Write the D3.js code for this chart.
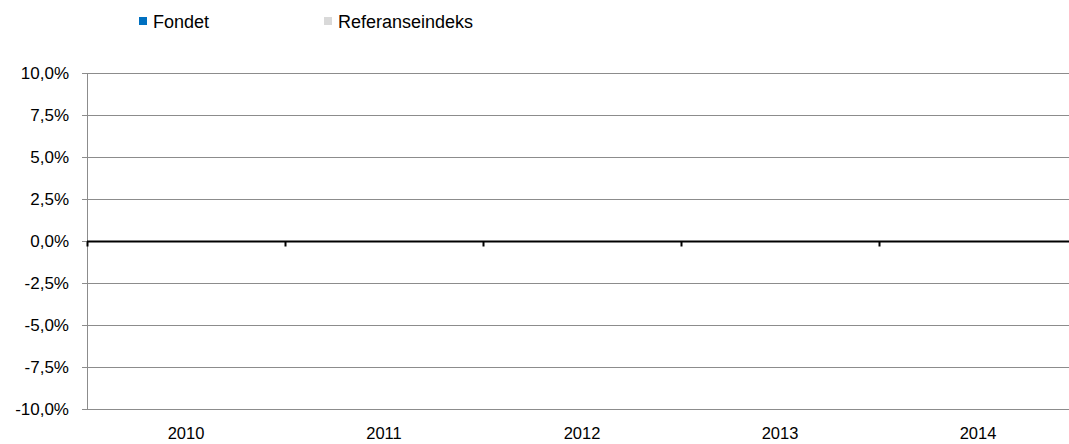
<!DOCTYPE html>
<html lang="no">
<head>
<meta charset="utf-8">
<script src="https://cdn.jsdelivr.net/npm/d3@7"></script>
<style>
  body { margin: 0; background: #fff; }
  text { font-family: "Liberation Sans", Arial, sans-serif; fill: #000; }
</style>
</head>
<body>
<script>
// chart data
var years = ['2010', '2011', '2012', '2013', '2014'];
var fondet = [0, 0, 0, 0, 0];
var referanse = [0, 0, 0, 0, 0];
var yTicks = [-0.1, -0.075, -0.05, -0.025, 0, 0.025, 0.05, 0.075, 0.1];
var seriesNames = ['Fondet', 'Referanseindeks'];
var seriesColors = ['#0070c0', '#d9d9d9'];

var w = 1069, h = 444;
var plotLeft = 87, plotRight = 1077, plotTop = 73, plotBottom = 409;

var svg = d3.select('body').append('svg')
    .attr('width', w)
    .attr('height', h);

var x = d3.scaleBand().domain(years).range([plotLeft, plotRight]);
var x1 = d3.scaleBand().domain(seriesNames).range([0, x.bandwidth()]).paddingInner(0).paddingOuter(0.5);
var y = d3.scaleLinear().domain([-0.1, 0.1]).range([plotBottom, plotTop]);

var fmt = function(d) { return d3.format('.1%')(d).replace('.', ',').replace('−', '-'); };

// gridlines
svg.append('g').selectAll('line')
    .data(yTicks)
    .enter().append('line')
    .attr('x1', plotLeft - 5).attr('x2', plotRight)
    .attr('y1', function(d) { return Math.round(y(d)) + 0.5; })
    .attr('y2', function(d) { return Math.round(y(d)) + 0.5; })
    .attr('stroke', '#8c8c8c')
    .attr('stroke-width', 1);

// y axis line
svg.append('line')
    .attr('x1', plotLeft + 0.5).attr('x2', plotLeft + 0.5)
    .attr('y1', plotTop).attr('y2', plotBottom + 0.5)
    .attr('stroke', '#8c8c8c');

// y labels
svg.append('g').selectAll('text')
    .data(yTicks)
    .enter().append('text')
    .attr('x', 69)
    .attr('y', function(d) { return y(d) + 6; })
    .attr('text-anchor', 'end')
    .attr('font-size', '17px')
    .text(fmt);

// bars
var groups = svg.append('g').selectAll('g')
    .data(years)
    .enter().append('g')
    .attr('transform', function(d) { return 'translate(' + x(d) + ',0)'; });

groups.selectAll('rect')
    .data(function(d, i) { return [fondet[i], referanse[i]]; })
    .enter().append('rect')
    .attr('x', function(d, i) { return x1(seriesNames[i]); })
    .attr('width', x1.bandwidth())
    .attr('y', function(d) { return y(Math.max(0, d)); })
    .attr('height', function(d) { return Math.abs(y(d) - y(0)); })
    .attr('fill', function(d, i) { return seriesColors[i]; });

// zero line with category ticks
var zy = Math.round(y(0)) + 0.5;
svg.append('line')
    .attr('x1', plotLeft).attr('x2', plotRight)
    .attr('y1', zy).attr('y2', zy)
    .attr('stroke', '#000')
    .attr('stroke-width', 2);

svg.append('g').selectAll('line')
    .data(years)
    .enter().append('line')
    .attr('x1', function(d) { return Math.round(x(d)) + 0.5; })
    .attr('x2', function(d) { return Math.round(x(d)) + 0.5; })
    .attr('y1', zy).attr('y2', zy + 5)
    .attr('stroke', '#000')
    .attr('stroke-width', 2);

// x labels
svg.append('g').selectAll('text')
    .data(years)
    .enter().append('text')
    .attr('x', function(d) { return x(d) + x.bandwidth() / 2; })
    .attr('y', 439)
    .attr('text-anchor', 'middle')
    .attr('font-size', '16.5px')
    .text(function(d) { return d; });

// legend
var legendX = [139, 324];
var legend = svg.append('g').selectAll('g')
    .data(seriesNames)
    .enter().append('g')
    .attr('transform', function(d, i) { return 'translate(' + legendX[i] + ',17)'; });

legend.append('rect')
    .attr('width', 8).attr('height', 8)
    .attr('fill', function(d, i) { return seriesColors[i]; });

legend.append('text')
    .attr('x', 14)
    .attr('y', 11)
    .attr('font-size', '18px')
    .text(function(d) { return d; });
</script>
</body>
</html>
